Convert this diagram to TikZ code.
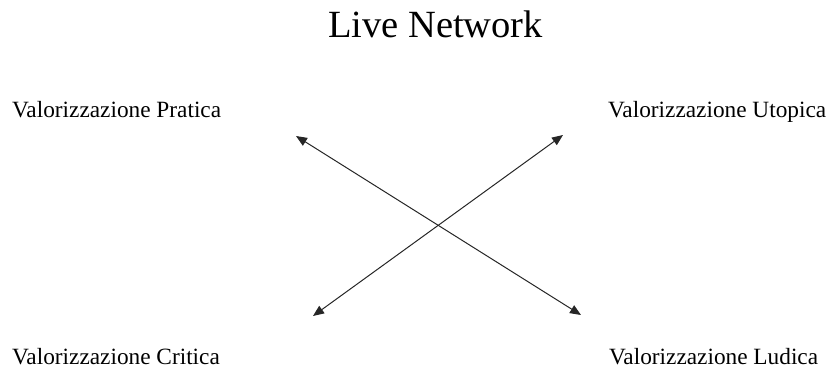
\documentclass[tikz,border=0pt]{standalone}
\usepackage{fontspec}
\setmainfont{Liberation Serif}
\usetikzlibrary{arrows.meta}
\begin{document}
\begin{tikzpicture}[x=1pt,y=-1pt,
  lbl/.style={inner sep=0pt,anchor=base west,font=\fontsize{23.3}{26}\selectfont},
  ttl/.style={inner sep=0pt,anchor=base,font=\fontsize{38.5}{42}\selectfont},
  dblarrow/.style={draw=black!85,line width=1pt,{Triangle[length=11pt,width=9pt]}-{Triangle[length=11pt,width=9pt]}}]
\useasboundingbox (0,0) rectangle (836,369);
\node[ttl] (title) at (435.5,38) {Live Network};
\node[lbl] (prat) at (12,117.5) {Valorizzazione Pratica};
\node[lbl] (utop) at (608,117.5) {Valorizzazione Utopica};
\node[lbl] (crit) at (12,364) {Valorizzazione Critica};
\node[lbl] (ludi) at (609,364.5) {Valorizzazione Ludica};
\coordinate (a1) at (296,136);
\coordinate (a2) at (581,315);
\coordinate (b1) at (563,135);
\coordinate (b2) at (313,316);
\draw[dblarrow] (a1) -- (a2);
\draw[dblarrow] (b1) -- (b2);
\end{tikzpicture}
\end{document}
